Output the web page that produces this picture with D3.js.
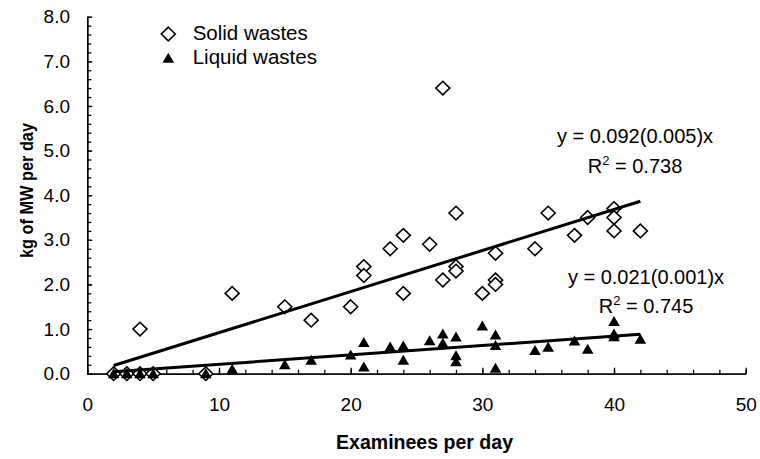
<!DOCTYPE html>
<html>
<head>
<meta charset="utf-8">
<script src="https://cdn.jsdelivr.net/npm/d3@7"></script>
<style>
  body { margin: 0; background: #fff; }
  svg { display: block; font-family: 'Liberation Sans', Arial, sans-serif; }
</style>
</head>
<body>
<svg id="chart"></svg>
<script>
// examinees per day / kg of medical waste per day
const solidX = [2, 3, 4, 5, 9, 4, 11, 15, 17, 20, 21, 21, 23, 24, 24, 26, 27, 27, 28, 28, 28, 30, 31, 31, 31, 34, 35, 37, 38, 40, 40, 40, 42];
const solidY = [0, 0, 0, 0, 0, 1.0, 1.8, 1.5, 1.2, 1.5, 2.4, 2.2, 2.8, 3.1, 1.8, 2.9, 6.4, 2.1, 3.6, 2.4, 2.3, 1.8, 2.7, 2.1, 2.0, 2.8, 3.6, 3.1, 3.5, 3.7, 3.5, 3.2, 3.2];

const liquidX = [2, 3, 4, 5, 9, 11, 15, 17, 20, 21, 21, 23, 24, 24, 26, 27, 27, 28, 28, 28, 30, 31, 31, 31, 34, 35, 37, 38, 40, 40, 40, 42];
const liquidY = [0, 0, 0, 0, 0, 0.1, 0.2, 0.3, 0.42, 0.7, 0.15, 0.6, 0.62, 0.3, 0.74, 0.89, 0.68, 0.82, 0.4, 0.27, 1.07, 0.87, 0.63, 0.12, 0.52, 0.59, 0.73, 0.55, 1.17, 0.89, 0.83, 0.77];

const seriesNames = ['Solid wastes', 'Liquid wastes'];
const slopes = [0.092, 0.021];
const equations = ['y = 0.092(0.005)x', 'y = 0.021(0.001)x'];
const rSquared = ['0.738', '0.745'];

const xMajorTicks = [0, 10, 20, 30, 40, 50];
const xMinorTicks = d3.range(0, 51, 2);
const yMajorTicks = [0, 1, 2, 3, 4, 5, 6, 7, 8];
const yMinorTicks = d3.range(0, 40.5, 1).map(d => d / 5);

const width = 760;
const height = 459;

const svg = d3.select('#chart')
  .attr('width', width)
  .attr('height', height);

const x = d3.scaleLinear().domain([0, 50]).range([87.3, 745.7]);
const y = d3.scaleLinear().domain([0, 8]).range([373.7, 16.7]);

// axes: ticks point inward, like the original
const xAxisG = svg.append('g')
  .attr('transform', `translate(0, ${y(0)})`);
xAxisG.append('g')
  .call(d3.axisBottom(x).tickValues(xMinorTicks).tickSize(-4).tickSizeOuter(0).tickFormat(''));
xAxisG.append('g')
  .call(d3.axisBottom(x).tickValues(xMajorTicks).tickSize(-6).tickSizeOuter(0).tickPadding(24).tickFormat(d3.format('d')));

const yAxisG = svg.append('g')
  .attr('transform', `translate(${x(0)}, 0)`);
yAxisG.append('g')
  .call(d3.axisLeft(y).tickValues(yMinorTicks).tickSize(-4).tickSizeOuter(0).tickFormat(''));
yAxisG.append('g')
  .call(d3.axisLeft(y).tickValues(yMajorTicks).tickSize(-5).tickSizeOuter(0).tickPadding(17.3).tickFormat(d3.format('.1f')));

svg.selectAll('.domain, .tick line')
  .attr('stroke', '#000')
  .attr('stroke-width', 1.3);
svg.selectAll('.tick text')
  .attr('font-family', "'Liberation Sans', Arial, sans-serif")
  .attr('font-size', 19)
  .attr('fill', '#000');

// axis titles
svg.append('text')
  .attr('x', 424.5)
  .attr('y', 449)
  .attr('text-anchor', 'middle')
  .attr('font-size', 20)
  .attr('font-weight', 'bold')
  .attr('textLength', 177)
  .attr('lengthAdjust', 'spacingAndGlyphs')
  .text('Examinees per day');

svg.append('text')
  .attr('transform', 'translate(32.5, 190.5) rotate(-90)')
  .attr('text-anchor', 'middle')
  .attr('font-size', 18)
  .attr('font-weight', 'bold')
  .attr('textLength', 135)
  .attr('lengthAdjust', 'spacingAndGlyphs')
  .text('kg of MW per day');

// marker shapes
const diamond = 'M0,-6.8L7,0L0,6.8L-7,0Z';
const triangle = 'M0,-5.5L5.8,4.5L-5.8,4.5Z';

const solid = solidX.map((d, i) => ({x: d, y: solidY[i]}));
const liquid = liquidX.map((d, i) => ({x: d, y: liquidY[i]}));

svg.append('g').selectAll('path')
  .data(solid)
  .join('path')
  .attr('d', diamond)
  .attr('transform', d => `translate(${x(d.x)}, ${y(d.y)})`)
  .attr('fill', '#fff')
  .attr('stroke', '#000')
  .attr('stroke-width', 1.6);

svg.append('g').selectAll('path')
  .data(liquid)
  .join('path')
  .attr('d', triangle)
  .attr('transform', d => `translate(${x(d.x)}, ${y(d.y)})`)
  .attr('fill', '#000');

// trend lines through origin, over the range of the data
const line = d3.line().x(d => x(d[0])).y(d => y(d[1]));
[solidX, liquidX].forEach((xs, i) => {
  const ext = d3.extent(xs);
  svg.append('path')
    .attr('d', line(ext.map(v => [v, slopes[i] * v])))
    .attr('fill', 'none')
    .attr('stroke', '#000')
    .attr('stroke-width', 3);
});

// equations
const eqPos = [[635, 143.3, 173.3], [646, 284, 313.3]];
eqPos.forEach((p, i) => {
  svg.append('text')
    .attr('x', p[0])
    .attr('y', p[1])
    .attr('text-anchor', 'middle')
    .attr('font-size', 20)
    .text(equations[i]);
  const r = svg.append('text')
    .attr('x', p[0])
    .attr('y', p[2])
    .attr('text-anchor', 'middle')
    .attr('font-size', 20);
  r.append('tspan').text('R');
  r.append('tspan').attr('font-size', 13).attr('dy', -8).text('2');
  r.append('tspan').attr('dy', 8).text(' = ' + rSquared[i]);
});

// legend
const legend = svg.append('g');
const legendMarks = [diamond, triangle];
seriesNames.forEach((name, i) => {
  const ly = 34 + i * 24.3;
  legend.append('path')
    .attr('d', legendMarks[i])
    .attr('transform', `translate(168.3, ${ly})`)
    .attr('fill', i === 0 ? '#fff' : '#000')
    .attr('stroke', i === 0 ? '#000' : 'none')
    .attr('stroke-width', 1.6);
  legend.append('text')
    .attr('x', 192.7)
    .attr('y', ly + 5.5)
    .attr('font-size', 20.5)
    .text(name);
});
</script>
</body>
</html>
